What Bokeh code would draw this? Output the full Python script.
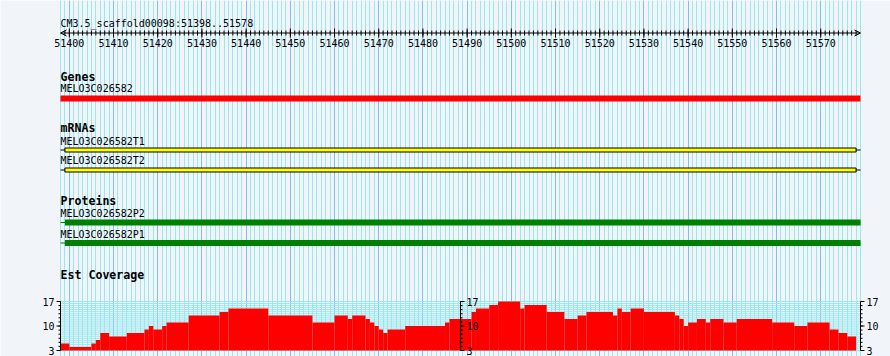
import math
from bokeh.plotting import figure
from bokeh.models import (Range1d, Grid, SingleIntervalTicker, Arrow, OpenHead)
from bokeh.core.properties import value
from bokeh.embed import file_html
from bokeh.resources import INLINE

# ---------------- data ----------------
region_start = 51398
region_end = 51579
ref_label = "CM3.5_scaffold00098:51398..51578"

ruler_ticks = [51400, 51410, 51420, 51430, 51440, 51450, 51460, 51470, 51480,
               51490, 51500, 51510, 51520, 51530, 51540, 51550, 51560, 51570]
ruler_labels = ["51400", "51410", "51420", "51430", "51440", "51450", "51460",
                "51470", "51480", "51490", "51500", "51510", "51520", "51530",
                "51540", "51550", "51560", "51570"]

track_titles = ["Genes", "mRNAs", "Proteins", "Est Coverage"]

gene_names = ["MELO3C026582"]
gene_start = [51398]
gene_end = [51579]

mrna_names = ["MELO3C026582T1", "MELO3C026582T2"]
mrna_start = [51398, 51398]
mrna_end = [51579, 51579]
mrna_exon_start = [51399, 51399]
mrna_exon_end = [51578, 51578]

protein_names = ["MELO3C026582P2", "MELO3C026582P1"]
protein_start = [51398, 51398]
protein_end = [51579, 51579]
protein_cds_start = [51399, 51399]
protein_cds_end = [51579, 51579]

cov_start = [51398, 51400, 51405, 51406, 51407, 51409, 51413, 51417, 51418, 51419,
             51421, 51422, 51427, 51434, 51436, 51445, 51455, 51460, 51463, 51464,
             51467, 51468, 51469, 51470, 51471, 51472, 51476, 51485, 51486, 51491,
             51492, 51495, 51497, 51502, 51503, 51508, 51512, 51515, 51517, 51523,
             51524, 51525, 51527, 51530, 51537, 51538, 51539, 51540, 51542, 51544,
             51545, 51548, 51551, 51559, 51564, 51567, 51572, 51574, 51576]
cov_stop = 51578
cov_value = [5, 4, 5, 6, 8, 7, 8, 9, 10, 9,
             10, 11, 13, 14, 15, 13, 11, 13, 12, 13,
             12, 11, 10, 9, 8, 9, 10, 11, 12, 14,
             15, 16, 17, 15, 16, 14, 12, 13, 14, 13,
             15, 14, 15, 14, 13, 12, 10, 11, 12, 11,
             12, 11, 12, 11, 10, 11, 9, 8, 7]
cov_min = 3
cov_max = 17
cov_axis_ticks = [3, 10, 17]
cov_axis_labels = ["3", "10", "17"]

# ---------------- style ----------------
BG = "#f1f5fa"
MINOR = "#98e8ee"
MAJOR = "#80c0f0"
FONT = value("DejaVu Sans Mono")
W, H = 890, 356
PAD_L, PAD_R = 60, 30
bp_per_px = (region_end - region_start) / (W - PAD_L - PAD_R)

p = figure(width=W, height=H,
           x_range=Range1d(region_start - PAD_L * bp_per_px, region_end + PAD_R * bp_per_px),
           y_range=Range1d(H, 0),
           min_border=0,
           x_axis_location=None, y_axis_location=None,
           toolbar_location=None, output_backend="svg",
           background_fill_color=BG, border_fill_color=BG,
           outline_line_color=None)
p.grid.visible = False

# coverage value range (maps 3..17 onto its band of the panel)
px_per_unit = 3.5
p.extra_y_ranges = {"cov": Range1d(cov_min - 6 / px_per_unit,
                                   cov_max + 301 / px_per_unit)}

# vertical grid: every base (minor), every 10 bases (major)
p.add_layout(Grid(dimension=0, bounds=(region_start, region_end),
                  ticker=SingleIntervalTicker(interval=1, num_minor_ticks=0),
                  grid_line_color=MINOR, grid_line_width=1))
p.add_layout(Grid(dimension=0, bounds=(region_start, region_end),
                  ticker=SingleIntervalTicker(interval=10, num_minor_ticks=0),
                  grid_line_color=MAJOR, grid_line_width=1))
# horizontal grid in coverage band
hgrid = [cov_min + k * (cov_max - cov_min) / 24 for k in range(25)]
p.segment(x0=region_start, y0=hgrid, x1=region_end, y1=hgrid, y_range_name="cov",
          line_color=MINOR, line_width=1)

# ---------------- ruler ----------------
p.text(x=[region_start], y=[22.5], text=[ref_label], text_font=FONT,
       text_font_size="10px", text_color="black", text_baseline="alphabetic")
p.add_layout(Arrow(x_start=region_start, x_end=region_end, y_start=32.5, y_end=32.5,
                   start=OpenHead(size=6, line_width=1, line_color="black"),
                   end=OpenHead(size=6, line_width=1, line_color="black"),
                   line_color="black", line_width=1))
minor_ruler = list(range(region_start + 1, region_end))
p.segment(x0=minor_ruler, y0=30, x1=minor_ruler, y1=35, line_color="black", line_width=1)
p.segment(x0=ruler_ticks, y0=28, x1=ruler_ticks, y1=37, line_color="black", line_width=1)
p.text(x=ruler_ticks, y=42.5, text=ruler_labels, text_font=FONT, text_font_size="10px",
       text_color="black", text_align="center", text_baseline="alphabetic")

# ---------------- track titles ----------------
p.text(x=[region_start] * 4, y=[76.5, 127.5, 200, 274.5], text=track_titles,
       text_font=FONT, text_font_size="11.6px", text_font_style="bold",
       text_color="black", text_baseline="alphabetic")

# ---------------- genes ----------------
p.text(x=gene_start, y=[88], text=gene_names, text_font=FONT, text_font_size="10px",
       text_color="black", text_baseline="alphabetic")
p.quad(left=gene_start, right=gene_end, top=[95], bottom=[101],
       fill_color="#ff0000", line_color=None)

# ---------------- mRNAs ----------------
p.text(x=mrna_start, y=[141, 160], text=mrna_names, text_font=FONT, text_font_size="10px",
       text_color="black", text_baseline="alphabetic")
p.segment(x0=mrna_start, y0=[149.5, 169.5], x1=mrna_end, y1=[149.5, 169.5],
          line_color="black", line_width=1)
p.quad(left=mrna_exon_start, right=mrna_exon_end, top=[147.5, 167.5], bottom=[151.5, 171.5],
       fill_color="#ffff00", line_color="black", line_width=1)

# ---------------- proteins ----------------
p.text(x=protein_start, y=[213, 234], text=protein_names, text_font=FONT, text_font_size="10px",
       text_color="black", text_baseline="alphabetic")
p.segment(x0=protein_start, y0=[222, 242.5], x1=protein_end, y1=[222, 242.5],
          line_color="#008000", line_width=1)
p.quad(left=protein_cds_start, right=protein_cds_end, top=[219, 239.5], bottom=[225, 245.5],
       fill_color="#008000", line_color=None)

# ---------------- coverage ----------------
cov_end = cov_start[1:] + [cov_stop]
p.quad(left=cov_start, right=cov_end, bottom=cov_min, top=cov_value,
       y_range_name="cov", fill_color="#ff0000", line_color=None)

cov_minor = [cov_min + k * (cov_max - cov_min) / 12 for k in range(13)]


def cov_axis(x, side):
    """Value axis for the coverage track at genomic position x; side=+1 ticks right, -1 left."""
    ang = 0 if side > 0 else math.pi
    p.segment(x0=[x], y0=[cov_min], x1=[x], y1=[cov_max], y_range_name="cov",
              line_color="black", line_width=1)
    p.ray(x=[x] * len(cov_minor), y=cov_minor, length=2, angle=ang, length_units="screen",
          y_range_name="cov", line_color="black", line_width=1)
    p.ray(x=[x] * len(cov_axis_ticks), y=cov_axis_ticks, length=4, angle=ang,
          length_units="screen", y_range_name="cov", line_color="black", line_width=1)
    p.text(x=[x] * len(cov_axis_ticks), y=cov_axis_ticks, text=cov_axis_labels,
           x_offset=6 * side, y_range_name="cov", text_font=FONT, text_font_size="10px",
           text_color="black", text_baseline="middle",
           text_align="left" if side > 0 else "right")


cov_axis(region_start, -1)
cov_axis((region_start + region_end) / 2, +1)
cov_axis(region_end, +1)

open("out.html", "w").write(file_html(p, INLINE))
